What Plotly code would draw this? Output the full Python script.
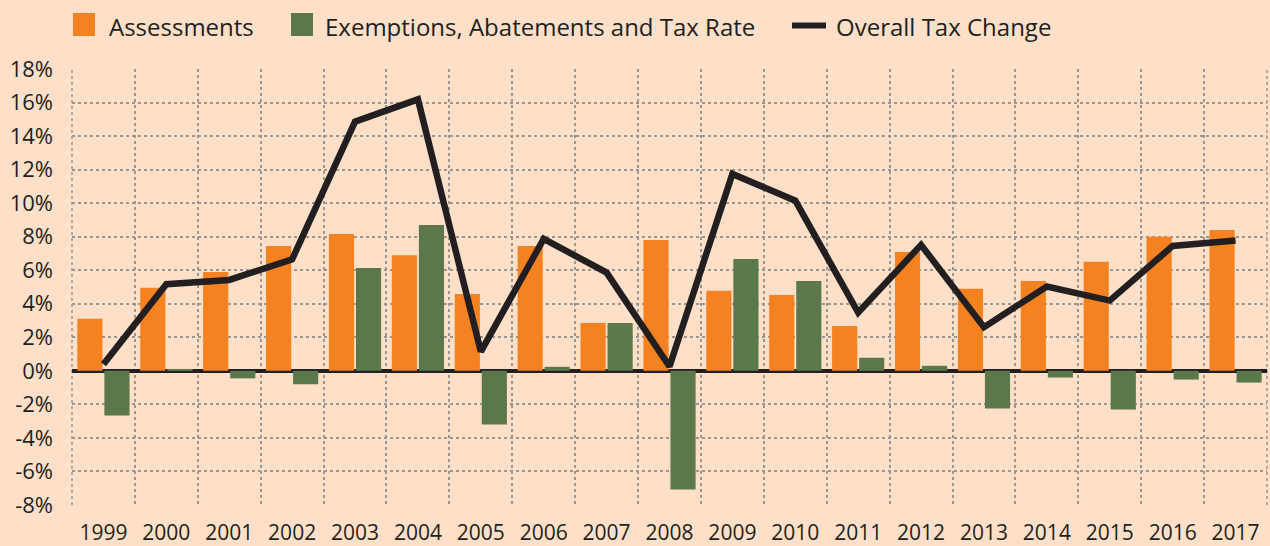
import plotly.graph_objects as go

years = ["1999", "2000", "2001", "2002", "2003", "2004", "2005", "2006", "2007", "2008",
         "2009", "2010", "2011", "2012", "2013", "2014", "2015", "2016", "2017"]
assessments = [3.1, 4.95, 5.9, 7.45, 8.16, 6.9, 4.59, 7.45, 2.86, 7.8,
               4.77, 4.53, 2.68, 7.09, 4.89, 5.36, 6.5, 7.99, 8.4]
exemptions = [-2.66, 0.08, -0.45, -0.8, 6.14, 8.7, -3.2, 0.24, 2.86, -7.07,
              6.67, 5.36, 0.78, 0.3, -2.24, -0.4, -2.3, -0.52, -0.7]
overall = [0.4, 5.17, 5.42, 6.65, 14.86, 16.19, 1.15, 7.87, 5.86, 0.26,
           11.74, 10.15, 3.48, 7.51, 2.6, 5.03, 4.19, 7.45, 7.77]
ytick_vals = [-8, -6, -4, -2, 0, 2, 4, 6, 8, 10, 12, 14, 16, 18]
ytick_text = ["-8%", "-6%", "-4%", "-2%", "0%", "2%", "4%", "6%", "8%", "10%",
              "12%", "14%", "16%", "18%"]
series_names = ["Assessments", "Exemptions, Abatements and Tax Rate", "Overall Tax Change"]

ORANGE = "#F58220"
GREEN = "#5B784C"
DARK = "#231F20"
BG = "#FEE0C8"
GRID = "#9A9693"
FONT = "Open Sans"

W, H = 1270, 546
L, R, T, B = 72, 3, 69, 41
PW, PH = W - L - R, H - T - B


def px(x):
    return (x - L) / PW


def py(y):
    return (H - B - y) / PH


fig = go.Figure()
fig.add_trace(go.Bar(x=years, y=assessments, name=series_names[0],
                     marker=dict(color=ORANGE, line=dict(width=0)), showlegend=False))
fig.add_trace(go.Bar(x=years, y=exemptions, name=series_names[1],
                     marker=dict(color=GREEN, line=dict(width=0)), showlegend=False))
fig.add_trace(go.Scatter(x=years, y=overall, name=series_names[2], mode="lines",
                         line=dict(color=DARK, width=6.5), showlegend=False))

# custom legend and edge grid lines (layout decoration)
shapes = [
    dict(type="rect", xref="paper", yref="paper", x0=px(73), x1=px(95), y0=py(36), y1=py(13),
         fillcolor=ORANGE, line=dict(width=0)),
    dict(type="rect", xref="paper", yref="paper", x0=px(291), x1=px(313), y0=py(36), y1=py(13),
         fillcolor=GREEN, line=dict(width=0)),
    dict(type="line", xref="paper", yref="paper", x0=px(792), x1=px(826), y0=py(25.5), y1=py(25.5),
         line=dict(color=DARK, width=6)),
    dict(type="line", xref="paper", yref="paper", x0=0, x1=0, y0=0, y1=1, layer="below",
         line=dict(color=GRID, width=1.5, dash="dot")),
    dict(type="line", xref="paper", yref="paper", x0=1, x1=1, y0=0, y1=1, layer="below",
         line=dict(color=GRID, width=1.5, dash="dot")),
]
annotations = []
for name, xpos in zip(series_names, [107, 323, 834]):
    annotations.append(dict(text=name, xref="paper", yref="paper", x=px(xpos), y=py(26),
                            xanchor="left", yanchor="middle", showarrow=False,
                            font=dict(family=FONT, size=24, color=DARK)))

fig.update_layout(
    width=W, height=H,
    margin=dict(l=L, r=R, t=T, b=B),
    paper_bgcolor=BG, plot_bgcolor=BG,
    barmode="group", bargap=0.14, bargroupgap=0.07,
    showlegend=False,
    font=dict(family=FONT, size=20, color=DARK),
    shapes=shapes, annotations=annotations,
    xaxis=dict(type="category", tickson="boundaries", showgrid=True, griddash="dot",
               gridcolor=GRID, gridwidth=1.5, ticks="", showline=False, zeroline=False,
               automargin=False,
               tickfont=dict(family=FONT, size=21, color=DARK), ticklabelstandoff=13),
    yaxis=dict(range=[-8, 18], tickvals=ytick_vals, ticktext=ytick_text, showgrid=True,
               griddash="dot", gridcolor=GRID, gridwidth=1.5, zeroline=True,
               zerolinecolor=DARK, zerolinewidth=3.5, ticks="", showline=False,
               automargin=False,
               tickfont=dict(family=FONT, size=22, color=DARK), ticklabelstandoff=18),
)

fig.write_html("out.html")
